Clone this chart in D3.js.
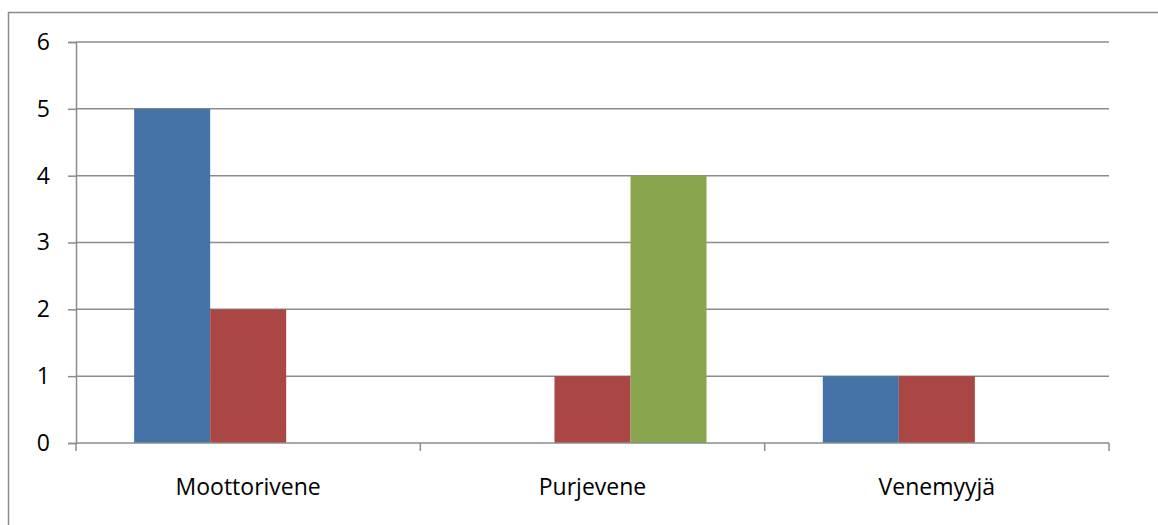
<!DOCTYPE html>
<html>
<head>
<meta charset="utf-8">
<script src="https://cdn.jsdelivr.net/npm/d3@7"></script>
<style>
  html, body { margin: 0; padding: 0; background: #fff; }
  svg { display: block; }
  text { font-family: "Open Sans", sans-serif; fill: #000; }
</style>
</head>
<body>
<svg id="chart" width="1158" height="525"></svg>
<script>
// Categories and per-series counts
const categories = ["Moottorivene", "Purjevene", "Venemyyjä"];
const seriesNames = ["Sarja1", "Sarja2", "Sarja3"];
const series1 = [5, 0, 1];
const series2 = [2, 1, 1];
const series3 = [0, 4, 0];
const yTicks = [0, 1, 2, 3, 4, 5, 6];
const colors = ["#4572A7", "#AA4643", "#89A54E"];

(function () {
  const svg = d3.select("#chart");
  const W = 1158, H = 525;
  const plotLeft = 76, plotRight = 1109, plotTop = 42, plotBottom = 443;
  const gridColor = "#8c8c8c";
  const fontSize = 23;

  // Outer chart-area frame
  svg.append("rect")
    .attr("x", 8.5).attr("y", 12.5)
    .attr("width", W + 20).attr("height", H + 20)
    .attr("fill", "none").attr("stroke", "#8a8a8a").attr("stroke-width", 1.5);

  const x0 = d3.scaleBand().domain(categories).range([plotLeft, plotRight]).paddingInner(0).paddingOuter(0);
  const x1 = d3.scaleBand().domain(seriesNames).range([0, x0.bandwidth()]).paddingInner(0).paddingOuter(0.765);
  const y = d3.scaleLinear().domain([0, 6]).range([plotBottom, plotTop]);

  // Horizontal gridlines
  svg.append("g").selectAll("line").data(yTicks.filter(d => d > 0)).join("line")
    .attr("x1", plotLeft).attr("x2", plotRight)
    .attr("y1", d => y(d)).attr("y2", d => y(d))
    .attr("stroke", gridColor).attr("stroke-width", 1.5);

  // Bars
  const data = [series1, series2, series3];
  const groups = svg.append("g").selectAll("g").data(categories).join("g")
    .attr("transform", c => `translate(${x0(c)},0)`);
  groups.selectAll("rect")
    .data((c, i) => seriesNames.map((s, j) => ({ s, v: data[j][i], color: colors[j] })))
    .join("rect")
    .attr("x", d => x1(d.s))
    .attr("width", x1.bandwidth())
    .attr("y", d => y(d.v))
    .attr("height", d => y(0) - y(d.v))
    .attr("fill", d => d.color);

  // Y axis
  const yAxis = svg.append("g").attr("transform", `translate(${plotLeft},0)`)
    .call(d3.axisLeft(y).tickValues(yTicks).tickSize(8).tickPadding(18).tickFormat(d3.format("d")));
  yAxis.select(".domain").attr("stroke", gridColor).attr("stroke-width", 1.5);
  yAxis.selectAll(".tick line").attr("stroke", gridColor).attr("stroke-width", 1.5);
  yAxis.selectAll("text").attr("font-size", fontSize).style("font-family", "'Open Sans', sans-serif").attr("fill", "#000");

  // X axis with ticks at category boundaries
  svg.append("line").attr("x1", plotLeft).attr("x2", plotRight).attr("y1", plotBottom).attr("y2", plotBottom)
    .attr("stroke", gridColor).attr("stroke-width", 1.5);
  const bounds = categories.map(c => x0(c)).concat([plotRight]);
  svg.append("g").selectAll("line").data(bounds).join("line")
    .attr("x1", d => d).attr("x2", d => d)
    .attr("y1", plotBottom).attr("y2", plotBottom + 8)
    .attr("stroke", gridColor).attr("stroke-width", 1.5);
  svg.append("g").selectAll("text").data(categories).join("text")
    .attr("x", c => x0(c) + x0.bandwidth() / 2)
    .attr("y", 495)
    .attr("text-anchor", "middle")
    .attr("font-size", fontSize)
    .text(c => c);
})();
</script>
</body>
</html>
